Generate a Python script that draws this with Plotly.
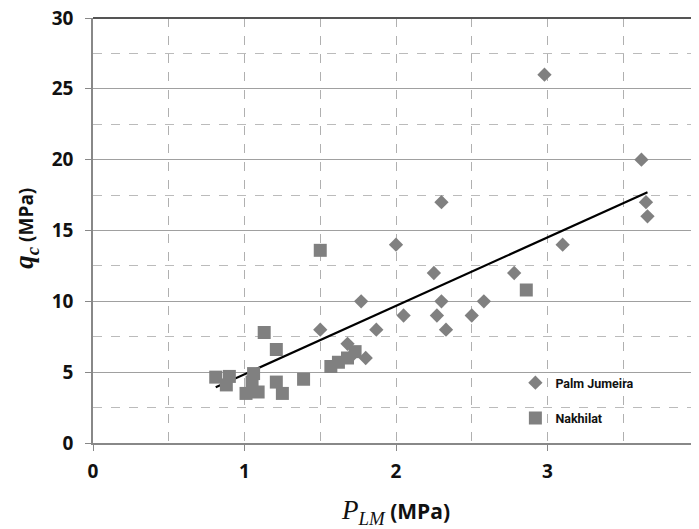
import plotly.graph_objects as go
import numpy as np

palm_x = [2.98, 3.62, 3.65, 3.66, 3.10, 2.30, 2.00, 2.25, 2.78, 1.77, 2.30, 2.58,
          2.05, 2.27, 2.50, 1.87, 2.33, 1.50, 1.80, 1.68, 1.72]
palm_y = [26, 20, 17, 16, 14, 17, 14, 12, 12, 10, 10, 10,
          9, 9, 9, 8, 8, 8, 6, 7, 6.3]

nakh_x = [1.50, 2.86, 1.13, 1.21, 1.39, 1.21, 1.25, 0.81, 0.90, 0.88, 1.01, 1.09,
          1.06, 1.05, 1.57, 1.62, 1.68, 1.73]
nakh_y = [13.6, 10.8, 7.8, 6.6, 4.5, 4.3, 3.5, 4.65, 4.7, 4.1, 3.5, 3.6,
          4.9, 4.3, 5.4, 5.7, 6.0, 6.45]

trend_slope = 4.83
trend_intercept = 0.02

x_ticks = [0, 1, 2, 3, 4]
y_ticks = [0, 5, 10, 15, 20, 25, 30]

all_x = palm_x + nakh_x
tx = np.array([min(all_x), max(all_x)])
ty = trend_slope * tx + trend_intercept

fig = go.Figure()
fig.add_trace(go.Scatter(x=tx, y=ty, mode="lines", line=dict(color="black", width=2.2),
                         showlegend=False, hoverinfo="skip"))
fig.add_trace(go.Scatter(x=palm_x, y=palm_y, mode="markers", name="Palm Jumeira",
                         legendgroup="a",
                         marker=dict(symbol="diamond", size=11, color="#808080")))
fig.add_trace(go.Scatter(x=nakh_x, y=nakh_y, mode="markers", name="Nakhilat",
                         legendgroup="b",
                         marker=dict(symbol="square", size=13, color="#808080")))

tickfont = dict(family="Open Sans", size=19, color="#111111", weight="bold")
fig.update_layout(
    width=691, height=521,
    margin=dict(l=85, r=0, t=10, b=86),
    paper_bgcolor="white", plot_bgcolor="white",
    legend=dict(x=0.697, y=0.10, xanchor="left", yanchor="middle",
                font=dict(family="Roboto", size=12.5, color="#111111", weight="bold"),
                bgcolor="rgba(0,0,0,0)", tracegroupgap=16, itemwidth=30,
                traceorder="grouped"),
    xaxis=dict(range=[0, 4], tickvals=x_ticks, ticktext=[str(v) for v in x_ticks],
               tickfont=tickfont, ticks="outside", ticklen=6, tickcolor="#888",
               automargin=False, ticklabelstandoff=4, ticklabeloverflow="allow",
               showgrid=True, gridcolor="#b0b0b0", griddash="dash", gridwidth=1,
               minor=dict(dtick=0.5, showgrid=True, gridcolor="#b0b0b0", griddash="dash"),
               showline=True, linecolor="#888", linewidth=1.5, mirror=False,
               zeroline=False,
               title=dict(text="<span style='font-family:Liberation Serif;font-style:italic;font-size:27px;font-weight:normal'>P<sub>LM</sub></span> (MPa)",
                          font=dict(family="Open Sans", size=21, color="#111111", weight="bold"), standoff=22)),
    yaxis=dict(range=[0, 30], tickvals=y_ticks, ticktext=[str(v) for v in y_ticks],
               tickfont=tickfont, ticks="outside", ticklen=6, tickcolor="#888",
               automargin=False, ticklabelstandoff=8, ticklabeloverflow="allow",
               showgrid=True, gridcolor="#a0a0a0", gridwidth=1.3,
               minor=dict(dtick=2.5, showgrid=True, gridcolor="#bbbbbb", griddash="dash"),
               showline=True, linecolor="#888", linewidth=1.5, zeroline=False),
)
fig.add_annotation(
    text="<span style='font-family:Liberation Serif;font-style:italic;font-size:27px'>q<sub>c</sub></span> (MPa)",
    font=dict(family="Open Sans", size=19, color="#111111", weight="bold"),
    textangle=-90, xref="paper", yref="paper", x=-0.110, y=0.505,
    xanchor="center", yanchor="middle", showarrow=False)
fig.add_shape(type="line", xref="paper", yref="paper", x0=0, x1=1, y0=1, y1=1,
              line=dict(color="#555", width=2))
fig.add_shape(type="line", xref="paper", yref="paper", x0=1, x1=1, y0=0, y1=1,
              line=dict(color="#555", width=2))
fig.write_html("out.html")
